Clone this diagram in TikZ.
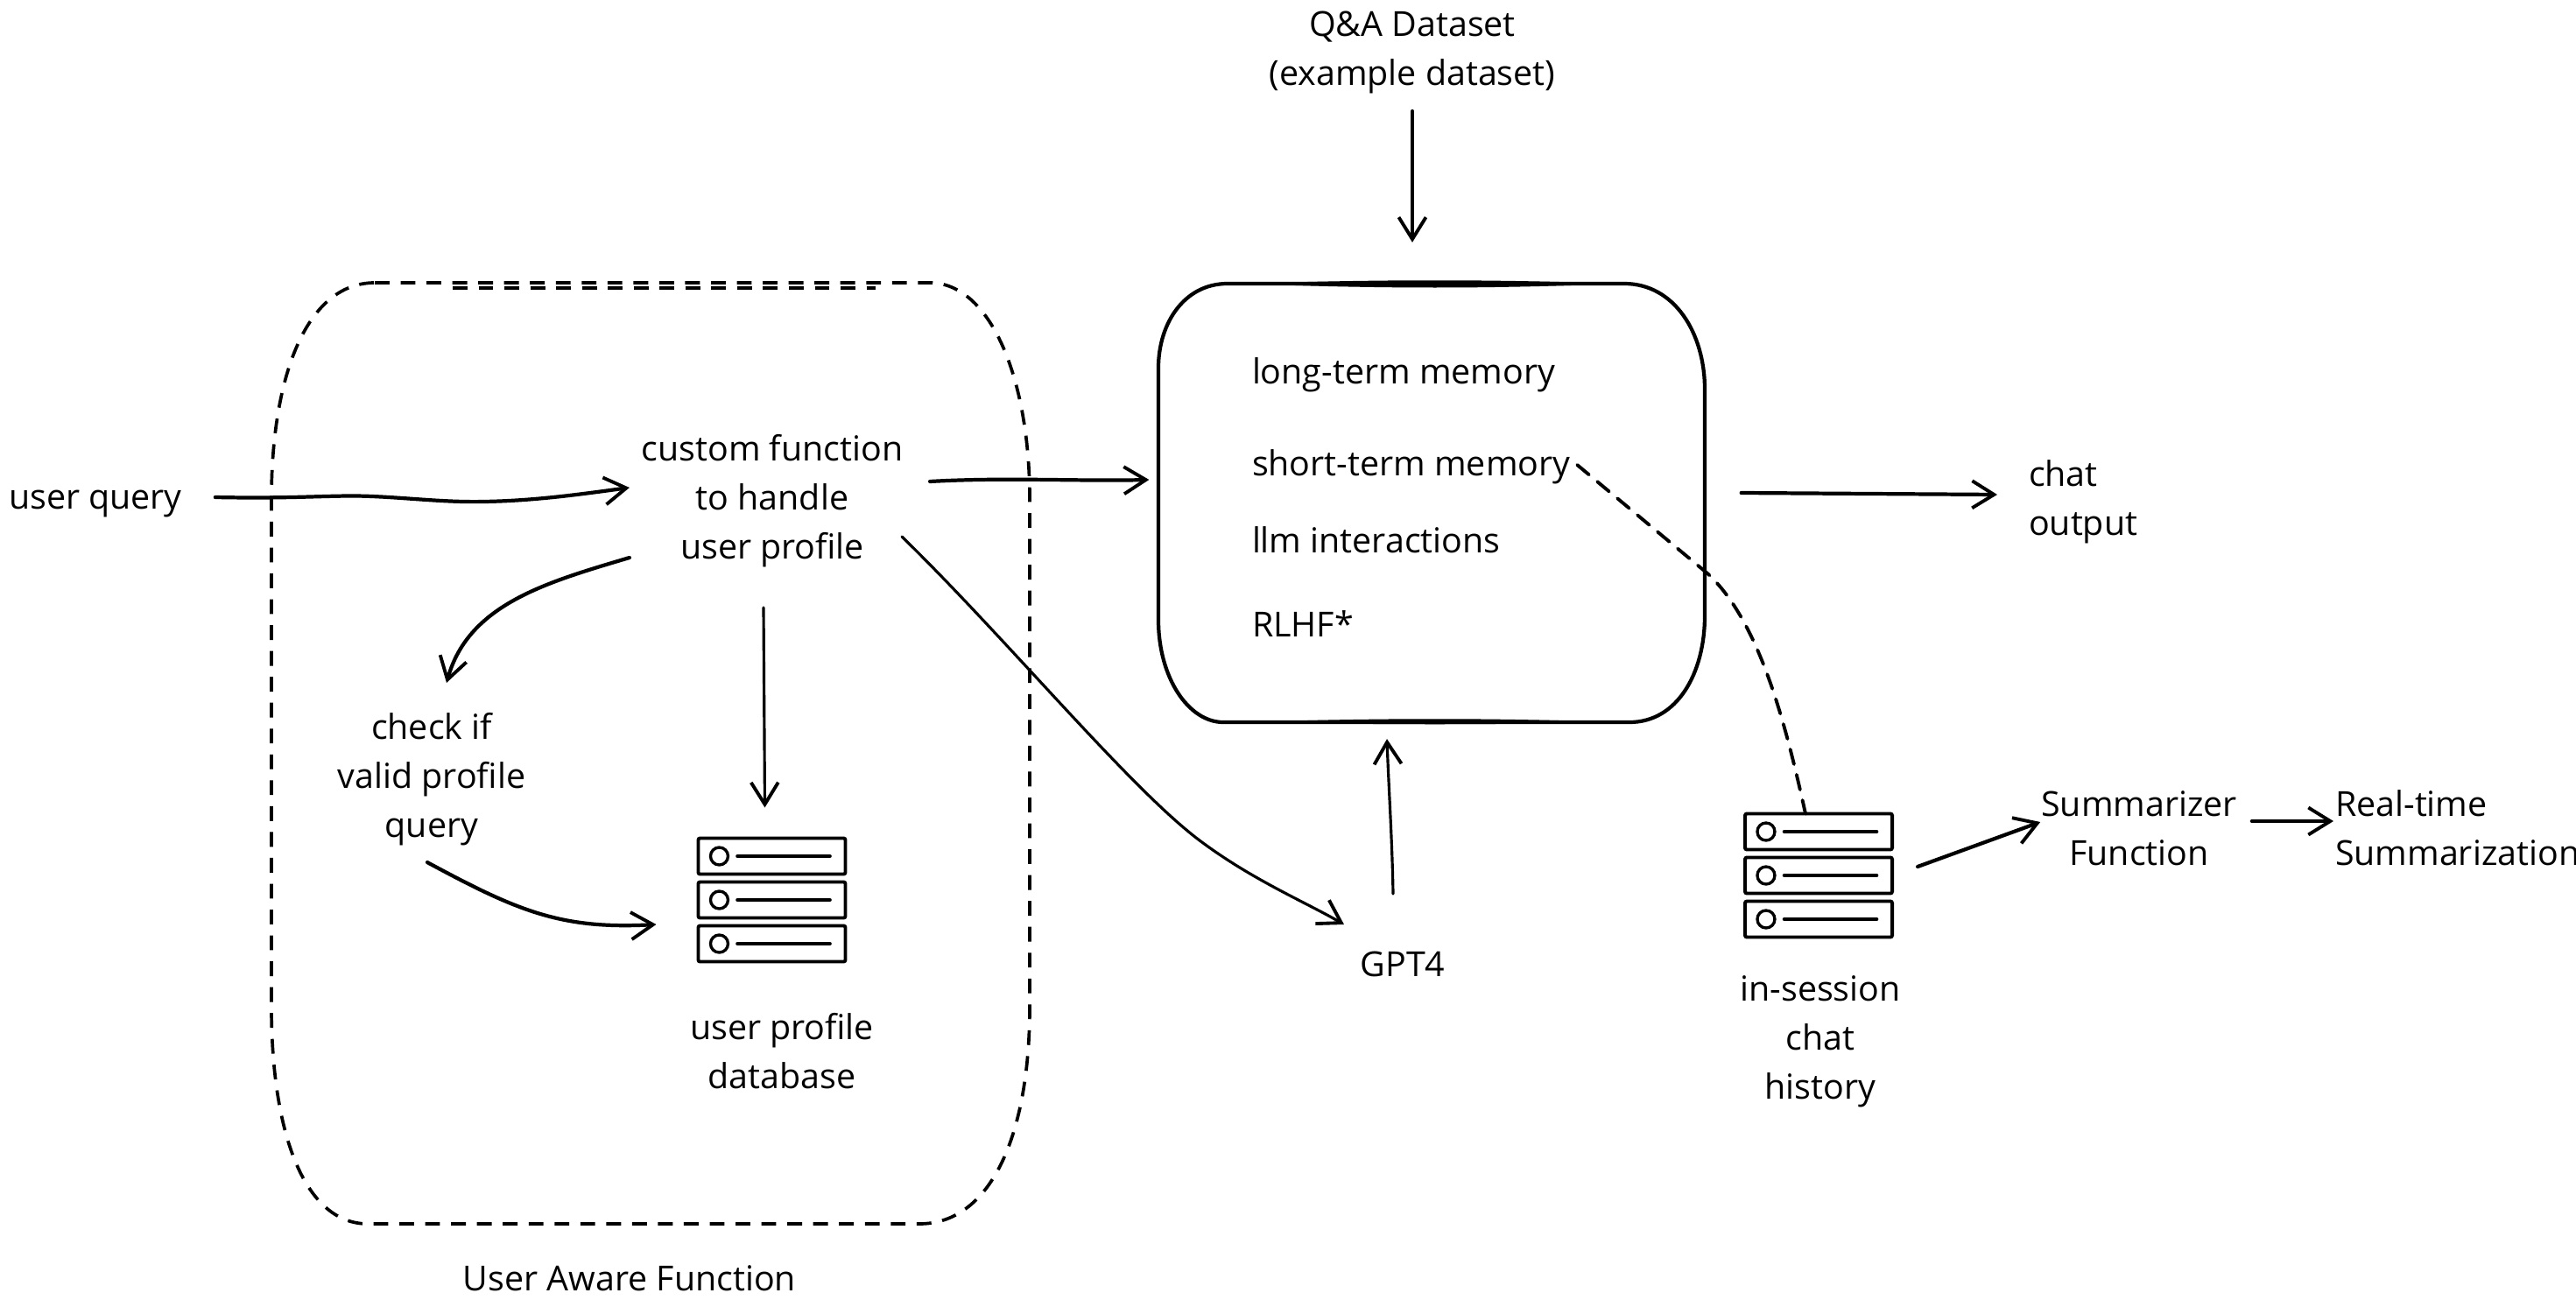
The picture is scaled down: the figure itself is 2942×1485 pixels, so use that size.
\documentclass[tikz,border=0pt]{standalone}
\usepackage{fontspec}
\setmainfont{Open Sans}
\usetikzlibrary{arrows.meta}
\tikzset{
  x=0.01cm,y=-0.01cm,
  every node/.style={font=\fontsize{11.2}{15.9}\selectfont,inner sep=0pt,outer sep=0pt},
  leftlbl/.style={text width=#1,align=flush left},
  arr/.style={line width=1.2pt,line cap=round,line join=round,-{Straight Barb[length=2.5mm,width=3.1mm,line width=1.1pt]}},
  thinarr/.style={arr,line width=.9pt},
  sketch/.style={line width=1.1pt,line cap=round,line join=round},
  dbrow/.style={draw,line width=1.1pt,minimum width=1.68cm,minimum height=0.41cm,rounded corners=0.6pt},
  dbdot/.style={draw,line width=.95pt,circle,minimum size=0.2cm},
  bounddash/.style={line width=1.05pt,line join=round,dash pattern=on 4.8pt off 3.6pt},
}
\newcommand{\dbstack}[3]{%
  \foreach \i/\d in {1/0,2/50,3/100}{
    \node[dbrow] (#1\i) at (#2,#3+\d) {};
    \node[dbdot] (#1dot\i) at ([shift={(24,0)}]#1\i.west) {};
    \draw[line width=1.3pt,line cap=round] ([shift={(45,0)}]#1\i.west) -- ([shift={(-18,0)}]#1\i.east);
  }%
}
\begin{document}
\begin{tikzpicture}
\useasboundingbox (0,0) rectangle (2942,1485);
% dashed boundary
\draw[bounddash] (428,323) -- (1062,323)
  .. controls (1130,323) and (1176,430) .. (1176,570)
  -- (1176,1150) .. controls (1176,1300) and (1130,1398) .. (1050,1398)
  -- (420,1398) .. controls (350,1398) and (310,1300) .. (310,1150)
  -- (310,570) .. controls (310,430) and (350,323) .. (428,323) -- cycle;
\draw[bounddash] (517,329) -- (1000,329);
% memory box
\node[minimum width=6.21cm,minimum height=5.02cm] (mem) at (1635,574) {};
\draw[sketch,line width=1.2pt] (1402,324) -- (1855,324)
  .. controls (1912,324) and (1947,380) .. (1947,445) -- (1947,703)
  .. controls (1947,770) and (1915,825) .. (1861,825) -- (1397,825)
  .. controls (1358,825) and (1323,775) .. (1323,708) -- (1323,420)
  .. controls (1323,370) and (1352,324) .. (1402,324) -- cycle;
\fill (1420,324) .. controls (1580,319) and (1700,319) .. (1850,324) .. controls (1700,330) and (1580,330) .. (1420,324) -- cycle;
\fill (1420,825) .. controls (1580,820) and (1700,820) .. (1850,825) .. controls (1700,828) and (1580,828) .. (1420,825) -- cycle;
% labels
\node[align=center,minimum height=1.1cm] (qa) at (1613,60) {Q\&A Dataset\\(example dataset)};
\node[minimum width=1.95cm,minimum height=.5cm] (q) at (109,575) {user query};
\node[align=center,minimum width=3cm,minimum height=1.7cm] (cf) at (882,572) {custom function\\to handle\\user profile};
\node[align=center,minimum width=2.25cm,minimum height=1.7cm] (chk) at (493,890) {check if\\valid profile\\query};
\node[align=center,minimum width=2.25cm,minimum height=1.1cm] (upd) at (893,1201) {user profile\\database};
\node[minimum width=3.9cm,minimum height=.5cm] (uaf) at (719,1460) {User Aware Function};
\node[leftlbl=4cm,anchor=west] (lt) at (1430,428) {long-term memory};
\node[leftlbl=4cm,anchor=west] (st) at (1430,533) {short-term memory};
\node[leftlbl=3.2cm,anchor=west] (llm) at (1430,617) {llm interactions};
\node[leftlbl=1.4cm,anchor=west] (rlhf) at (1430,713) {RLHF*};
\node[leftlbl=1.4cm,anchor=west] (out) at (2317,573) {chat\\output};
\node[minimum width=1.0cm,minimum height=.5cm] (gpt) at (1602,1101) {GPT4};
\node[align=center,minimum width=1.8cm,minimum height=1.7cm] (hist) at (2079,1190) {in-session\\chat\\history};
\node[align=center,minimum width=2.2cm,minimum height=1.1cm] (sum) at (2443,946) {Summarizer\\Function};
\node[leftlbl=2.74cm,anchor=west] (rt) at (2667,946) {Real-time\\Summarization};
\dbstack{a}{881.5}{978}
\dbstack{b}{2077}{950}
% connectors
\draw[arr] ([shift={(0,12)}]qa.south) -- ([shift={(0,-46)}]mem.north -| qa.south);
\draw[arr] ([shift={(38,-7)}]q.east) .. controls (340,570) and (380,565) .. (425,567) .. controls (470,569) and (510,574) .. (553,573) .. controls (610,572) and (660,565) .. ([shift={(-13,-15)}]cf.west);
\draw[arr] ([shift={(30,-22)}]cf.east) .. controls (1150,545) and (1230,550) .. ([shift={(-12,-26)}]mem.west);
\draw[arr] ([shift={(-13,65)}]cf.west) .. controls (625,665) and (535,690) .. ([shift={(17,-25)}]chk.north);
\draw[arr] ([shift={(-5,10)}]chk.south) .. controls (590,1040) and (640,1062) .. ([shift={(-48,28)}]a2.west);
\draw[thinarr] ([shift={(-10,37)}]cf.south) -- ([shift={(-8,-35)}]a1.north);
\draw[thinarr] ([shift={(-2,-44)}]cf.south east) .. controls (1150,730) and (1290,900) .. (1370,960) .. controls (1430,1005) and (1490,1030) .. ([shift={(-17,-20)}]gpt.north west);
\draw[thinarr] ([shift={(-11,-55)}]gpt.north) .. controls (1590,960) and (1586,900) .. ([shift={(-51,19)}]mem.south);
\draw[arr] ([shift={(43,-11)}]mem.east) -- ([shift={(-36,-8)}]out.west);
\draw[sketch,dash pattern=on 5pt off 3.5pt] ([shift={(-29,-2)}]st.east) -- (1950,655) .. controls (2010,710) and (2040,830) .. ([shift={(-15,0)}]b1.north);
\draw[arr] ([shift={(29,40)}]b1.east) -- ([shift={(-1,-7)}]sum.west);
\draw[arr] ([shift={(17,-8)}]sum.east) -- ([shift={(-2,-8)}]rt.west);
\end{tikzpicture}
\end{document}
